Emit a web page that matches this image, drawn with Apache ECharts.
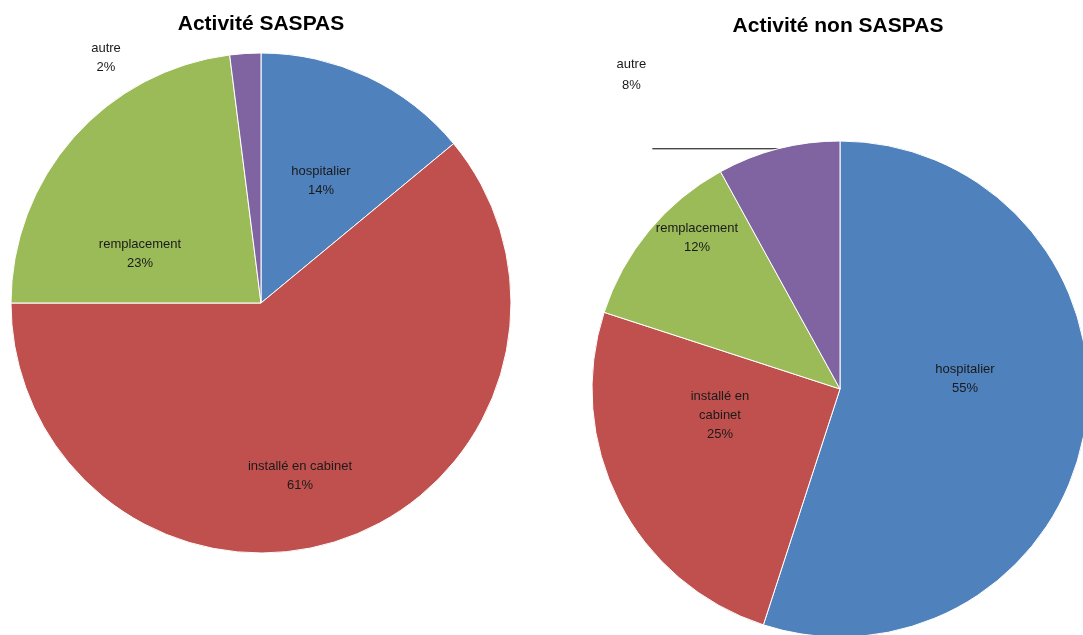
<!DOCTYPE html>
<html>
<head>
<meta charset="utf-8">
<script src="https://cdn.jsdelivr.net/npm/echarts@6/dist/echarts.min.js"></script>
<style>
  html, body { margin: 0; padding: 0; background: #fff; }
  #chart { width: 1083px; height: 635px; }
</style>
</head>
<body>
<div id="chart"></div>
<script>
const categories = ['hospitalier', 'installé en cabinet', 'remplacement', 'autre'];
const saspasValues = [14, 61, 23, 2];
const nonSaspasValues = [55, 25, 12, 8];

const COLORS = ['#4F81BD', '#C0504D', '#9BBB59', '#8064A2'];
const FONT = 'Liberation Sans';

// where Excel put its data labels (centre of each text block)
const leftLabelPos = [[321, 181], [300, 476], [140, 254], [106, 58]];
const rightLabelPos = [[965, 379], [720, 415], [697, 238], null];

const chart = echarts.init(document.getElementById('chart'));

const baseLabel = {
  show: true,
  position: 'inside',
  color: '#1a1a1a',
  fontFamily: FONT,
  fontSize: 13,
  lineHeight: 19,
  align: 'center',
};

function placeLabel(table) {
  return (p) => {
    const pos = table[p.dataIndex];
    if (!pos) return {};
    return { x: pos[0], y: pos[1], align: 'center', verticalAlign: 'middle' };
  };
}

const leftData = categories.map((name, i) => ({
  name,
  value: saspasValues[i],
  itemStyle: { color: COLORS[i] },
}));

const rightData = categories.map((name, i) => {
  const item = { name, value: nonSaspasValues[i], itemStyle: { color: COLORS[i] } };
  if (name === 'autre') {
    // label sits well above the end of its leader line, as in the original
    item.label = {
      position: 'outside',
      alignTo: 'none',
      distanceToLabelLine: 4,
      lineHeight: 21,
      formatter: (p) => `{c|${p.name}}\n{c|${p.value}%}` + '\n'.repeat(7) + ' ',
      rich: { c: { width: 34, align: 'center', lineHeight: 21, fontSize: 13, fontFamily: FONT, color: '#1a1a1a' } },
    };
    item.labelLine = { show: true, length: 0, length2: 126, lineStyle: { color: '#000', width: 1 } };
  }
  return item;
});

chart.setOption({
  animation: false,
  title: [
    {
      text: 'Activité SASPAS', left: 256, top: 9, textAlign: 'center',
      textStyle: { fontFamily: FONT, fontSize: 21, fontWeight: 'bold', color: '#000' },
    },
    {
      text: 'Activité non SASPAS', left: 833, top: 11, textAlign: 'center',
      textStyle: { fontFamily: FONT, fontSize: 21, fontWeight: 'bold', color: '#000' },
    },
  ],
  series: [
    {
      type: 'pie',
      center: [261, 303],
      radius: 250,
      startAngle: 90,
      avoidLabelOverlap: false,
      itemStyle: { borderColor: '#fff', borderWidth: 1 },
      label: { ...baseLabel, formatter: (p) => `${p.name}\n${p.value}%` },
      labelLine: { show: false },
      labelLayout: placeLabel(leftLabelPos),
      data: leftData,
    },
    {
      type: 'pie',
      center: [840, 389],
      radius: 248,
      startAngle: 90,
      avoidLabelOverlap: false,
      itemStyle: { borderColor: '#fff', borderWidth: 1 },
      label: {
        ...baseLabel,
        formatter: (p) => `${p.name.replace(' en ', ' en\n')}\n${p.value}%`,
      },
      labelLine: { show: false },
      labelLayout: placeLabel(rightLabelPos),
      data: rightData,
    },
  ],
});

window.addEventListener('resize', () => chart.resize());
</script>
</body>
</html>
